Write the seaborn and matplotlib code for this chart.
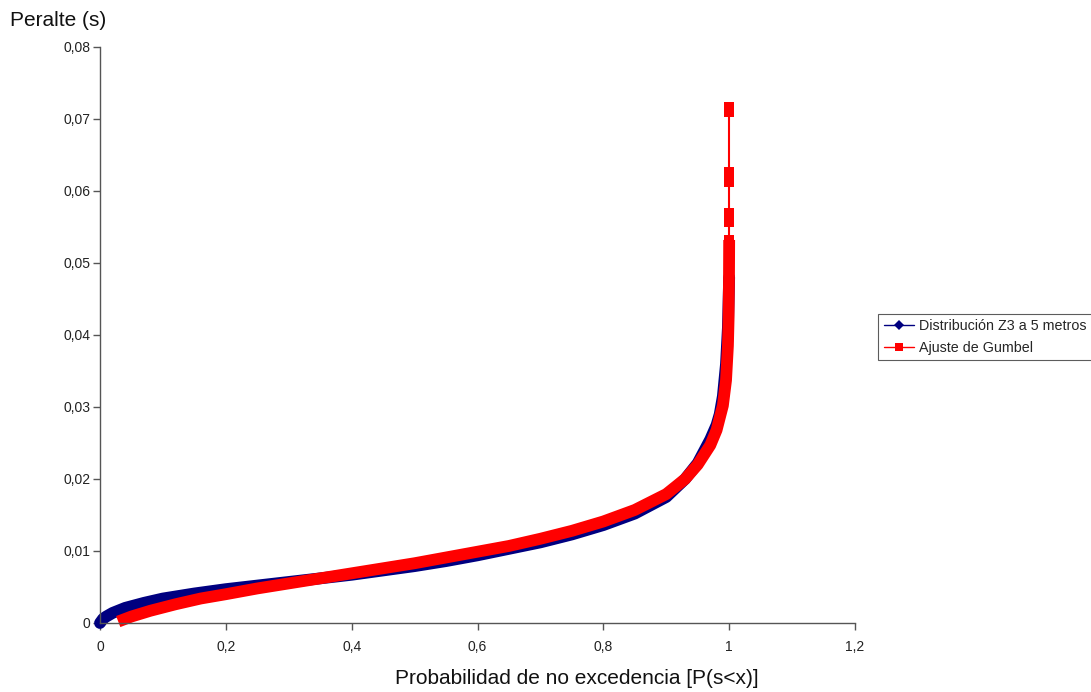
import matplotlib
matplotlib.use("Agg")
import matplotlib.pyplot as plt
from matplotlib.lines import Line2D
from matplotlib.ticker import FuncFormatter
import seaborn as sns
import pandas as pd

# ---- data ----
dist_p = [0.0, 0.005, 0.01, 0.02, 0.04, 0.07, 0.10, 0.15, 0.20, 0.25, 0.30, 0.35,
          0.40, 0.45, 0.50, 0.55, 0.60, 0.65, 0.70, 0.75, 0.80, 0.85, 0.90, 0.93,
          0.95, 0.97, 0.98, 0.985, 0.99, 0.995, 0.998, 1.0]
dist_s = [0.0000, 0.0006, 0.0009, 0.0014, 0.0021, 0.0028, 0.0034, 0.0041, 0.0047,
          0.0052, 0.0057, 0.0062, 0.0067, 0.0073, 0.0079, 0.0086, 0.0094, 0.0103,
          0.0112, 0.0123, 0.0136, 0.0152, 0.0175, 0.0200, 0.0222, 0.0255, 0.0275,
          0.0290, 0.0315, 0.0360, 0.0410, 0.0480]

gumbel_p = [0.029, 0.05, 0.08, 0.12, 0.16, 0.20, 0.25, 0.30, 0.35, 0.40, 0.45,
            0.50, 0.55, 0.60, 0.65, 0.70, 0.75, 0.80, 0.85, 0.90, 0.93, 0.95,
            0.97, 0.98, 0.99, 0.995, 0.998, 0.999, 0.9997, 0.9999, 1.0]
gumbel_s = [0.0002, 0.0009, 0.0017, 0.0026, 0.0034, 0.0040, 0.0048, 0.0055,
            0.0062, 0.0069, 0.0076, 0.0083, 0.0091, 0.0099, 0.0107, 0.0117,
            0.0128, 0.0141, 0.0157, 0.0179, 0.0200, 0.0220, 0.0247, 0.0268,
            0.0302, 0.0337, 0.0385, 0.0420, 0.0475, 0.0510, 0.0532]

# isolated Gumbel points at P ~ 1
tail_p = [1.0, 1.0, 1.0, 1.0, 1.0, 1.0, 1.0]
tail_s = [0.0532, 0.0557, 0.0569, 0.0612, 0.0626, 0.0710, 0.0717]

series_names = ["Distribución Z3 a 5 metros", "Ajuste de Gumbel"]
x_ticks = [0, 0.2, 0.4, 0.6, 0.8, 1.0, 1.2]
y_ticks = [0, 0.01, 0.02, 0.03, 0.04, 0.05, 0.06, 0.07, 0.08]

x_label = "Probabilidad de no excedencia [P(s<x)]"
y_label = "Peralte (s)"

BLUE = "#000080"
RED = "#FF0000"

sns.set_theme(style="white")
plt.rcParams["font.family"] = ["Liberation Sans", "DejaVu Sans"]

fig = plt.figure(figsize=(10.91, 6.92), dpi=100)
ax = fig.add_axes([100 / 1091, 69 / 692, 755 / 1091, 576 / 692])

df_d = pd.DataFrame({"p": dist_p, "s": dist_s})
df_g = pd.DataFrame({"p": gumbel_p, "s": gumbel_s})
df_t = pd.DataFrame({"p": tail_p, "s": tail_s})

sns.lineplot(data=df_d, x="p", y="s", ax=ax, color=BLUE, linewidth=8.5,
             estimator=None, sort=False, solid_capstyle="round", clip_on=False)
sns.lineplot(data=df_g, x="p", y="s", ax=ax, color=RED, linewidth=8.5,
             estimator=None, sort=False, solid_capstyle="butt", clip_on=False)
sns.lineplot(data=df_t, x="p", y="s", ax=ax, color=RED, linewidth=1.5,
             estimator=None, sort=False, marker="s", markersize=7,
             markeredgewidth=0, clip_on=False)

ax.set_xlim(0, 1.2)
ax.set_ylim(0, 0.08)
ax.set_xticks(x_ticks)
ax.set_yticks(y_ticks)

def comma_fmt(v, pos):
    if abs(v) < 1e-12:
        return "0"
    s = f"{v:.2f}".rstrip("0").rstrip(".")
    return s.replace(".", ",")

ax.xaxis.set_major_formatter(FuncFormatter(comma_fmt))
ax.yaxis.set_major_formatter(FuncFormatter(comma_fmt))

for side in ["top", "right"]:
    ax.spines[side].set_visible(False)
for side in ["left", "bottom"]:
    ax.spines[side].set_color("#555555")
    ax.spines[side].set_linewidth(1.0)

ax.tick_params(axis="both", which="major", direction="out", length=5,
               width=1.0, color="#555555", labelsize=10, labelcolor="#222222",
               left=True, bottom=True)
ax.tick_params(axis="x", pad=7)
ax.tick_params(axis="y", pad=2)
ax.grid(False)

ax.set_xlabel("")
ax.set_ylabel("")
fig.text(577 / 1091, 1 - 679 / 692, x_label, ha="center", va="center",
         fontsize=15, color="#111111")
fig.text(10 / 1091, 1 - 20 / 692, y_label, ha="left", va="center",
         fontsize=15, color="#111111")

handles = [
    Line2D([0], [0], color=BLUE, lw=1, marker="D", markersize=5, markeredgewidth=0),
    Line2D([0], [0], color=RED, lw=1, marker="s", markersize=6, markeredgewidth=0),
]
leg = fig.legend(handles, series_names, loc="center left",
                 bbox_to_anchor=(878 / 1091, 1 - 337 / 692),
                 fontsize=10.3, frameon=True, fancybox=False, handlelength=2.1,
                 borderpad=0.4, labelspacing=0.5, handletextpad=0.35,
                 borderaxespad=0)
leg.get_frame().set_edgecolor("#333333")
leg.get_frame().set_linewidth(0.8)

fig.savefig("out.png", dpi=100, facecolor="white")
